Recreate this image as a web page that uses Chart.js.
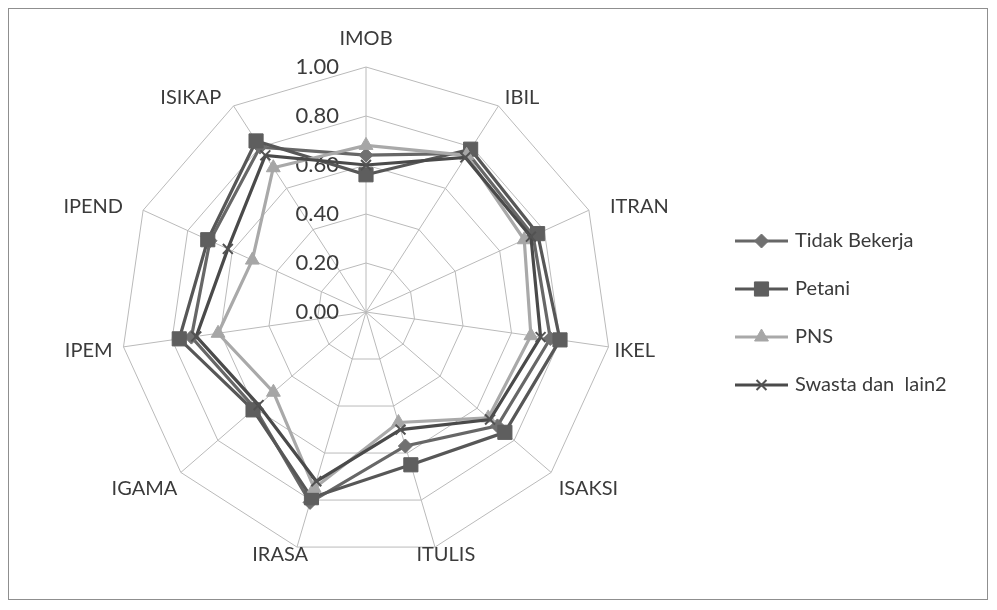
<!DOCTYPE html>
<html>
<head>
<meta charset="utf-8">
<script src="https://cdn.jsdelivr.net/npm/chart.js@4/dist/chart.umd.min.js"></script>
<style>
  html, body { margin:0; padding:0; background:#fff; }
  #frame { position:absolute; left:8px; top:8px; width:980px; height:592px; border:1px solid #8f8f8f; box-sizing:border-box; }
  #c { position:absolute; left:0; top:0; }
</style>
</head>
<body>
<div id="frame"></div>
<canvas id="c" width="997" height="610"></canvas>
<script>
// axes of the radar, clockwise from the top
const labels = ["IMOB","IBIL","ITRAN","IKEL","ISAKSI","ITULIS","IRASA","IGAMA","IPEM","IPEND","ISIKAP"];
const tidakBekerja = [0.64, 0.77, 0.75, 0.76, 0.71, 0.57, 0.81, 0.60, 0.72, 0.70, 0.80];
const petani       = [0.56, 0.79, 0.77, 0.80, 0.75, 0.65, 0.79, 0.61, 0.77, 0.71, 0.83];
const pns          = [0.68, 0.76, 0.71, 0.68, 0.66, 0.47, 0.75, 0.50, 0.61, 0.51, 0.70];
const swasta       = [0.60, 0.75, 0.74, 0.72, 0.67, 0.50, 0.72, 0.58, 0.70, 0.62, 0.76];
const tickLabels = ["0.00","0.20","0.40","0.60","0.80","1.00"];

const FONT = "Lato, 'Open Sans', sans-serif";
const TEXT = "#3b3b3b";

// small hand nudges so the axis names sit where the original put them
const labelNudge = [[0,0],[1,0],[12,0],[-4,2],[0,10],[8,-2],[-14,-2],[4,10],[-1,2],[-11,0],[-7,0]];

const series = [
  { label:"Tidak Bekerja",   data:tidakBekerja, color:"#676767", marker:"#707070", style:"rectRot",  radius:7 },
  { label:"Petani",          data:petani,       color:"#575757", marker:"#5e5e5e", style:"rect",     radius:10 },
  { label:"PNS",             data:pns,          color:"#a9a9a9", marker:"#a6a6a6", style:"triangle", radius:8 },
  { label:"Swasta dan  lain2", data:swasta,     color:"#4a4a4a", marker:"#525252", style:"crossRot", radius:7 },
];

// tick values written left of the vertical axis, like the original
const tickText = {
  id:"tickText",
  beforeDatasetsDraw(chart){
    const r = chart.scales.r, ctx = chart.ctx;
    ctx.save();
    ctx.font = "22px " + FONT;
    ctx.fillStyle = TEXT;
    ctx.textAlign = "right";
    ctx.textBaseline = "middle";
    tickLabels.forEach(t => {
      const p = r.getPointPositionForValue(0, parseFloat(t));
      ctx.fillText(t, p.x - 27, p.y);
    });
    ctx.restore();
  }
};

// category names around the web
const axisText = {
  id:"axisText",
  afterDraw(chart){
    const r = chart.scales.r, ctx = chart.ctx;
    ctx.save();
    ctx.font = "20px " + FONT;
    ctx.fillStyle = TEXT;
    labels.forEach((name, i) => {
      const a = r.getIndexAngle(i);
      const s = Math.sin(a), c = Math.cos(a);
      const [dx, dy] = labelNudge[i];
      let p;
      if (c > 0.99){
        p = r.getPointPosition(i, r.drawingArea + 18);
        ctx.textAlign = "center"; ctx.textBaseline = "bottom";
      } else if (c < -0.9){
        p = r.getPointPosition(i, r.drawingArea + 10);
        ctx.textAlign = "center"; ctx.textBaseline = "middle";
      } else {
        p = r.getPointPosition(i, r.drawingArea + 10);
        ctx.textAlign = s > 0 ? "left" : "right";
        ctx.textBaseline = "middle";
      }
      ctx.fillText(name, p.x + dx, p.y + dy);
    });
    ctx.restore();
  }
};

// legend: short line with the marker on it
const sideLegend = {
  id:"sideLegend",
  afterDraw(chart){
    const ctx = chart.ctx;
    ctx.save();
    chart.data.datasets.forEach((ds, i) => {
      const y = 241 + i * 48, x0 = 735, x1 = 788;
      ctx.strokeStyle = ds.borderColor;
      ctx.lineWidth = 3;
      ctx.beginPath(); ctx.moveTo(x0, y); ctx.lineTo(x1, y); ctx.stroke();
      ctx.fillStyle = ds.pointBackgroundColor;
      ctx.strokeStyle = ds.pointBorderColor;
      ctx.lineWidth = ds.pointBorderWidth;
      Chart.helpers.drawPoint(ctx, { pointStyle: ds.pointStyle, radius: ds.pointRadius, rotation: 0, borderWidth: ds.pointBorderWidth }, (x0 + x1) / 2, y);
      ctx.font = "20px " + FONT;
      ctx.fillStyle = TEXT;
      ctx.textAlign = "left";
      ctx.textBaseline = "middle";
      ctx.fillText(ds.label, 795, y);
    });
    ctx.restore();
  }
};

new Chart(document.getElementById("c"), {
  type:"radar",
  data:{
    labels,
    datasets: series.map((s, i) => ({
      label: s.label,
      data: s.data,
      borderColor: s.color,
      borderWidth: 3.2,
      fill: false,
      pointStyle: s.style,
      pointRadius: s.radius,
      pointBackgroundColor: s.marker,
      pointBorderColor: s.marker,
      pointBorderWidth: s.style === "crossRot" ? 2 : 1,
      order: series.length - i,
    })),
  },
  options:{
    responsive:false,
    animation:false,
    devicePixelRatio:1,
    layout:{ padding:{ left:121, right:386, top:67, bottom:53 } },
    elements:{ line:{ tension:0 } },
    scales:{
      r:{
        min:0, max:1,
        ticks:{ stepSize:0.2, display:false },
        grid:{ color:"#bababa", lineWidth:1 },
        angleLines:{ color:"#bababa", lineWidth:1 },
        pointLabels:{ display:false },
      }
    },
    plugins:{ legend:{ display:false }, tooltip:{ enabled:false } },
  },
  plugins:[tickText, axisText, sideLegend],
});
</script>
</body>
</html>
